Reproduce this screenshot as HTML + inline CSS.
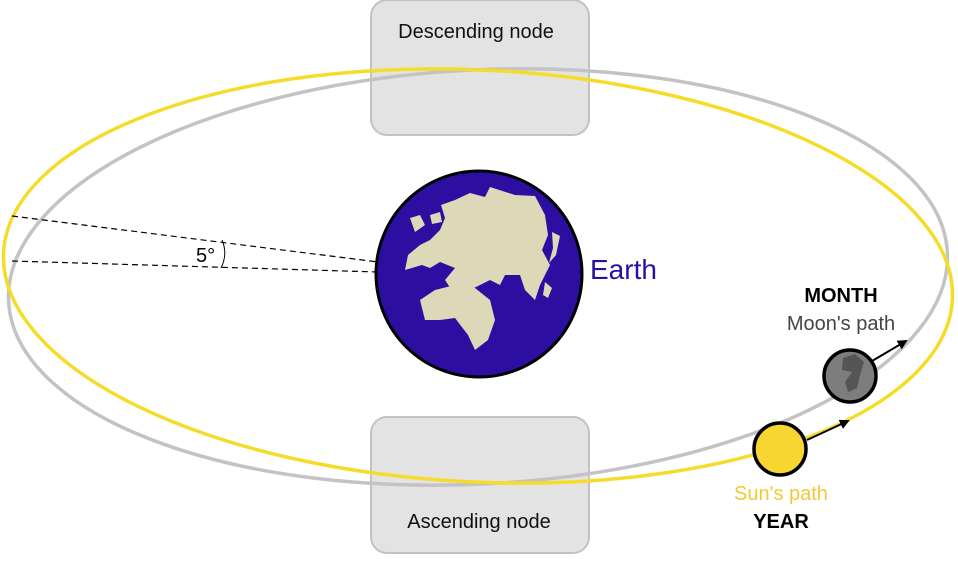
<!DOCTYPE html>
<html><head><meta charset="utf-8"><style>
html,body{margin:0;padding:0;background:#fff;}
svg{display:block;font-family:"Liberation Sans",Arial,sans-serif;}
</style></head><body>
<svg width="958" height="563" viewBox="0 0 958 563">
<defs>
<marker id="ar" markerWidth="10" markerHeight="10" refX="8" refY="5" orient="auto" markerUnits="userSpaceOnUse">
<path d="M0,0 L10,5 L0,10 Z" fill="#000"/>
</marker>
</defs>
<rect x="371" y="0" width="218" height="135" rx="16" fill="#e3e3e3" stroke="#c2c2c2" stroke-width="2"/>
<rect x="371" y="417" width="218" height="136" rx="16" fill="#e3e3e3" stroke="#c2c2c2" stroke-width="2"/>
<text x="476" y="38" font-size="20" text-anchor="middle" fill="#111">Descending node</text>
<text x="479" y="528" font-size="20" text-anchor="middle" fill="#111">Ascending node</text>
<ellipse cx="478" cy="277" rx="470" ry="207" fill="none" stroke="#c4c2c6" stroke-width="3.5" transform="rotate(-3 478 277)"/>
<ellipse cx="478" cy="276" rx="475" ry="206" fill="none" stroke="#f5dc2a" stroke-width="3.5" transform="rotate(2.8 478 276)"/>
<line x1="12" y1="216" x2="378" y2="262" stroke="#000" stroke-dasharray="6,4" stroke-width="1.2"/>
<line x1="12" y1="261" x2="378" y2="272" stroke="#000" stroke-dasharray="6,4" stroke-width="1.2"/>
<path d="M222,240 Q228,254 221,268" fill="none" stroke="#000" stroke-width="1"/>
<text x="196" y="262" font-size="20" fill="#000">5°</text>
<circle cx="479" cy="274" r="103" fill="#2c0fa0" stroke="#000" stroke-width="3"/>
<path d="M441,205 L455,200 L470,193 L485,197 L490,187 L515,195 L535,196 L545,215 L548,235 L542,250 L550,265 L540,285 L535,300 L525,290 L520,275 L505,275 L500,285 L490,280 L480,285 L470,290 L455,295 L445,280 L455,268 L440,262 L430,268 L422,265 L405,270 L408,255 L420,245 L430,240 L440,230 L445,218 Z" fill="#ddd8b8"/>
<path d="M410,218 L420,215 L425,225 L415,232 Z" fill="#ddd8b8"/>
<path d="M430,215 L440,212 L442,222 L432,224 Z" fill="#ddd8b8"/>
<path d="M552,232 L560,236 L556,255 L549,263 L553,248 Z" fill="#ddd8b8"/>
<path d="M545,282 L552,288 L548,298 L543,295 Z" fill="#ddd8b8"/>
<path d="M420,300 L435,290 L455,285 L475,288 L490,300 L495,320 L488,340 L475,350 L468,335 L455,318 L440,320 L425,320 Z" fill="#ddd8b8"/>
<text x="590" y="279" font-size="28" fill="#2c0fa0">Earth</text>
<line x1="807" y1="440" x2="848" y2="421" stroke="#000" stroke-width="2" marker-end="url(#ar)"/>
<line x1="872" y1="361" x2="906" y2="341" stroke="#000" stroke-width="2" marker-end="url(#ar)"/>
<circle cx="780" cy="449" r="26" fill="#f7d631" stroke="#000" stroke-width="3.5"/>
<circle cx="850" cy="376" r="26" fill="#7d7d7d" stroke="#000" stroke-width="3.5"/>
<path d="M843,358 L855,354 L864,362 L860,375 L857,388 L848,392 L845,382 L852,372 L842,370 Z" fill="#555"/>
<text x="841" y="302" font-size="20" font-weight="bold" text-anchor="middle" fill="#000">MONTH</text>
<text x="841" y="330" font-size="20" text-anchor="middle" fill="#444">Moon's path</text>
<text x="781" y="500" font-size="20" text-anchor="middle" fill="#f2c935">Sun's path</text>
<text x="781" y="528" font-size="20" font-weight="bold" text-anchor="middle" fill="#000">YEAR</text>
</svg>
</body></html>
